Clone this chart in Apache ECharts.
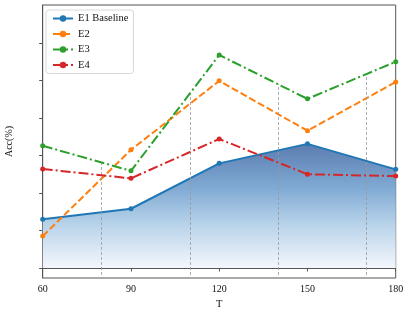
<!DOCTYPE html>
<html>
<head>
<meta charset="utf-8">
<script src="https://cdn.jsdelivr.net/npm/echarts@6/dist/echarts.min.js"></script>
<style>
html,body{margin:0;padding:0;background:#fff;}
#c{width:415px;height:312px;}
</style>
</head>
<body>
<div id="c"></div>
<script>
var xValues = [60, 90, 120, 150, 180];
var xTicks = [60, 90, 120, 150, 180];
var yTicks = [0, 1, 2, 3, 4, 5, 6];
var e1 = [1.30, 1.58, 2.79, 3.31, 2.63];
var e2 = [0.85, 3.15, 4.99, 3.66, 4.96];
var e3 = [3.26, 2.59, 5.68, 4.51, 5.50];
var e4 = [2.64, 2.39, 3.44, 2.50, 2.45];
var guideX = [80, 110, 140, 170];
var seriesNames = ['E1 Baseline', 'E2', 'E3', 'E4'];

var FONT = 'Liberation Serif';
var yMin = -0.267, yMax = 7.013;

function pairs(arr){ return xValues.map(function(x,i){return [x, arr[i]];}); }
function interp(arr, x){
  for (var i=0;i<xValues.length-1;i++){
    if (x>=xValues[i] && x<=xValues[i+1]){
      var t=(x-xValues[i])/(xValues[i+1]-xValues[i]);
      return arr[i]+t*(arr[i+1]-arr[i]);
    }
  }
  return arr[arr.length-1];
}
var all = [e1,e2,e3,e4];
var guideLines = guideX.map(function(x){
  var top = Math.max.apply(null, all.map(function(a){return interp(a,x);}));
  return [{coord:[x, yMin+0.08]},{coord:[x, top]}];
});

var chart = echarts.init(document.getElementById('c'), null, {renderer:'canvas'});
var dashdot = [10,3,2,3];
var option = {
  animation:false,
  backgroundColor:'#fff',
  textStyle:{fontFamily:FONT},
  grid:{left:42.7, right:19.3, top:5, bottom:34, show:true, borderColor:'#555', borderWidth:1, containLabel:false, outerBoundsMode:'none'},
  legend:{
    left:46, top:10, orient:'vertical',
    data:seriesNames,
    itemWidth:20, itemHeight:8, itemGap:4.5,
    padding:[3,5,3,6],
    borderColor:'#d8d8d8', borderWidth:1, borderRadius:3,
    backgroundColor:'rgba(255,255,255,0.85)',
    textStyle:{fontFamily:FONT, fontSize:10.5, color:'#111'}
  },
  xAxis:{
    type:'value', min:60, max:180, interval:30,
    name:'T', nameLocation:'middle', nameGap:20,
    nameTextStyle:{fontFamily:FONT, fontSize:10.5, color:'#111'},
    axisLine:{lineStyle:{color:'#555', width:1}},
    axisTick:{show:true, length:3.5, inside:false, lineStyle:{color:'#555'}},
    axisLabel:{fontFamily:FONT, fontSize:10, color:'#111', margin:6},
    splitLine:{show:false}
  },
  yAxis:{
    type:'value', min:yMin, max:yMax,
    name:'Acc(%)', nameLocation:'middle', nameGap:28,
    nameTextStyle:{fontFamily:FONT, fontSize:10, color:'#111'},
    axisLine:{show:true, lineStyle:{color:'#555', width:1}},
    axisTick:{show:true, length:3.5, inside:false, customValues:yTicks, lineStyle:{color:'#555'}},
    axisLabel:{show:false, customValues:yTicks},
    splitLine:{show:false}
  },
  series:[
    {
      name:'E1 Baseline', type:'line', data:pairs(e1), z:2,
      symbol:'circle', symbolSize:5,
      itemStyle:{color:'#1f77b4'},
      lineStyle:{color:'#1f77b4', width:2},
      areaStyle:{
        origin:0,
        opacity:1,
        color:new echarts.graphic.LinearGradient(0,0,0,1,[
          {offset:0, color:'#5a7db0'},
          {offset:0.35, color:'#7fa9d3'},
          {offset:0.65, color:'#b8d3ea'},
          {offset:1, color:'#f4f7fc'}
        ])
      }
    },
    {
      name:'guides', type:'line', data:[], z:3, silent:true,
      markLine:{
        silent:true, symbol:['none','none'], label:{show:false},
        lineStyle:{color:'#999', type:[3,2], width:0.8},
        data:guideLines, animation:false
      }
    },
    {
      name:'E2', type:'line', data:pairs(e2), z:4,
      symbol:'circle', symbolSize:5,
      itemStyle:{color:'#ff7f0e'},
      lineStyle:{color:'#ff7f0e', width:2, type:[7,3]}
    },
    {
      name:'E3', type:'line', data:pairs(e3), z:5,
      symbol:'circle', symbolSize:5,
      itemStyle:{color:'#2ca02c'},
      lineStyle:{color:'#2ca02c', width:2, type:dashdot}
    },
    {
      name:'E4', type:'line', data:pairs(e4), z:6,
      symbol:'circle', symbolSize:5,
      itemStyle:{color:'#d62728'},
      lineStyle:{color:'#d62728', width:2, type:dashdot}
    }
  ]
};
chart.setOption(option);
</script>
</body>
</html>
